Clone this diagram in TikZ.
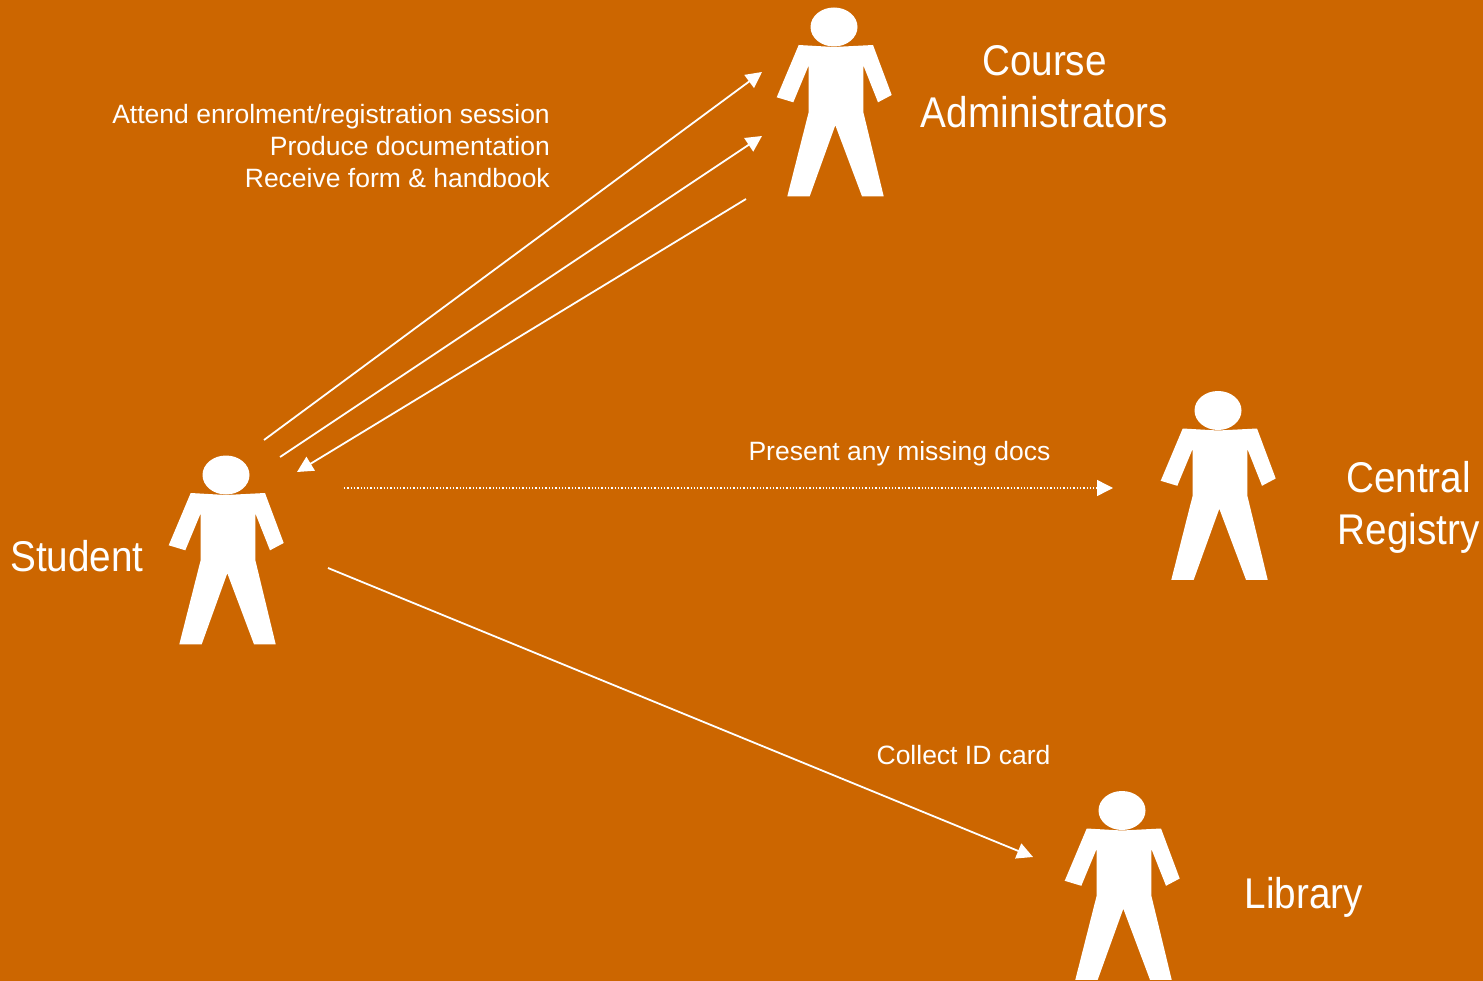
\documentclass[tikz,border=0pt]{standalone}
\usepackage{fontspec}
\setmainfont{Liberation Sans}
\newfontfamily\narrowfont[FakeStretch=0.9]{Liberation Sans}
\usetikzlibrary{arrows.meta,shapes.geometric}
\definecolor{slidebg}{HTML}{CC6600}
\tikzset{%
	>={Triangle[width=16pt,length=16pt]},
	% Specifications for style of nodes:
	actortext/.style = {text=white, align=center, inner sep=0pt,
		font=\narrowfont\fontsize{43}{52}\selectfont},
	steptext/.style = {text=white, inner sep=0pt,
		font=\fontsize{26.5}{32}\selectfont},
	link/.style = {->, draw=white, line width=1.8pt},
	dottedlink/.style = {->, draw=white, line width=1.4pt,
		dash pattern=on 1.3pt off 2pt},
	pics/person/.style = {code={
		\node (-head) [ellipse, fill=white, inner sep=0pt,
			minimum width=47pt, minimum height=39pt] at (0,0) {};
		\fill[white] (-35.3,18) -- (0,20) -- (39,18) -- (57.7,68) -- (44,75.3)
			-- (29.3,38.3) -- (29.3,85) -- (49.7,169.3) -- (28,169.3) -- (1.3,98.3)
			-- (-24.3,169.3) -- (-46.7,169.3) -- (-25.3,85) -- (-25.3,38.3)
			-- (-40.7,75.3) -- (-57.3,70.3) -- cycle;
	}}
}

\begin{document}
\begin{tikzpicture}[x=1pt, y=-1pt]
	\useasboundingbox (0,0) rectangle (1483,981);
	\fill[slidebg] (0,0) rectangle (1483,981);
	% The four people
	\pic (student) at (226,475) {person};
	\pic (course) at (834,27) {person};
	\pic (central) at (1218,410.5) {person};
	\pic (library) at (1122,810.5) {person};
	% Their names
	\node (studenttext) [actortext] at (77,556) {Student};
	\node (coursetext) [actortext] at (1044.5,86.5) {Course\\Administrators};
	\node (centraltext) [actortext] at (1408.5,507) {Central\\Registry};
	\node (librarytext) [actortext] at (1304,897) {Library};
	% Texts on the connectors
	\node (enroltext) [steptext, align=right, anchor=east] at (550,146)
		{Attend enrolment/registration session\\Produce documentation\\Receive form \& handbook};
	\node (docstext) [steptext] at (899.5,454) {Present any missing docs};
	\node (cardtext) [steptext] at (963.5,755) {Collect ID card};
	% Ends of the connectors
	\coordinate (attendfrom) at (264,440);
	\coordinate (attendto) at (762,72);
	\coordinate (producefrom) at (280,457);
	\coordinate (produceto) at (762,136);
	\coordinate (receivefrom) at (746,199);
	\coordinate (receiveto) at (297,472);
	\coordinate (docsfrom) at (344,488);
	\coordinate (docsto) at (1113,488);
	\coordinate (cardfrom) at (328,568);
	\coordinate (cardto) at (1033,857);

	\draw[link] (attendfrom) -- (attendto);
	\draw[link] (producefrom) -- (produceto);
	\draw[link] (receivefrom) -- (receiveto);
	\draw[dottedlink] (docsfrom) -- (docsto);
	\draw[link] (cardfrom) -- (cardto);
\end{tikzpicture}
\end{document}
